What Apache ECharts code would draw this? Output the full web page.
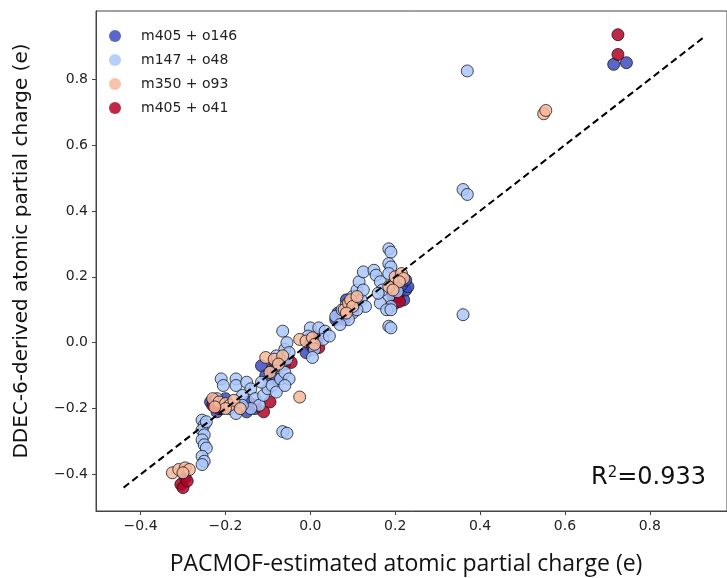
<!DOCTYPE html>
<html>
<head>
<meta charset="utf-8">
<script src="https://cdn.jsdelivr.net/npm/echarts@6/dist/echarts.min.js"></script>
<style>
  html, body { margin: 0; padding: 0; background: #fff; }
  #chart { width: 727px; height: 578px; }
</style>
</head>
<body>
<div id="chart"></div>
<script>
// tick values shared by both axes
var tickValues = [-0.4, -0.2, 0.0, 0.2, 0.4, 0.6, 0.8];

var seriesNames = ['m405 + o146', 'm147 + o48', 'm350 + o93', 'm405 + o41'];

// [PACMOF estimate, DDEC-6 value]
var m405_o146 = [
  [-0.295, -0.41],
  [-0.235, -0.18], [-0.22, -0.21], [-0.2, -0.17], [-0.16, -0.19], [-0.145, -0.18], [-0.13, -0.2], [-0.15, -0.21], [-0.21, -0.2],
  [-0.115, -0.07], [-0.105, -0.1], [-0.09, -0.08], [-0.08, -0.11], [-0.07, -0.06],
  [0.0, -0.01], [0.01, 0.02], [-0.01, -0.03],
  [0.07, 0.08], [0.065, 0.09], [0.08, 0.07], [0.09, 0.1], [0.1, 0.12], [0.085, 0.13], [0.11, 0.12], [0.06, 0.07],
  [0.195, 0.14], [0.21, 0.15], [0.22, 0.13], [0.225, 0.16], [0.23, 0.17], [0.215, 0.175], [0.225, 0.19], [0.2, 0.12],
  [0.715, 0.845], [0.745, 0.85]
];

var m147_o48 = [
  [-0.255, -0.235], [-0.25, -0.25], [-0.255, -0.265], [-0.25, -0.28], [-0.255, -0.295], [-0.25, -0.31], [-0.245, -0.32],
  [-0.255, -0.345], [-0.25, -0.36], [-0.255, -0.37], [-0.245, -0.24],
  [-0.21, -0.11], [-0.205, -0.13], [-0.175, -0.11], [-0.175, -0.13], [-0.15, -0.12], [-0.14, -0.14], [-0.16, -0.16],
  [-0.13, -0.17], [-0.12, -0.19], [-0.11, -0.16], [-0.1, -0.14], [-0.115, -0.12], [-0.09, -0.13], [-0.07, -0.11],
  [-0.08, -0.15], [-0.14, -0.2], [-0.16, -0.19], [-0.19, -0.2], [-0.175, -0.215], [-0.22, -0.17],
  [-0.07, -0.07], [-0.06, -0.09], [-0.055, -0.05], [-0.06, -0.02], [-0.065, 0.035], [-0.055, 0.0], [-0.08, -0.04],
  [-0.05, -0.11], [-0.06, -0.13], [-0.065, -0.27], [-0.055, -0.275], [-0.05, -0.03],
  [0.0, 0.045], [0.02, 0.045], [0.035, 0.035], [0.01, -0.02], [0.005, -0.045], [0.03, 0.01], [0.045, 0.02], [-0.005, 0.02],
  [0.06, 0.08], [0.075, 0.1], [0.085, 0.115], [0.1, 0.14], [0.11, 0.16], [0.115, 0.185], [0.125, 0.215], [0.1, 0.09],
  [0.12, 0.13], [0.13, 0.11], [0.09, 0.07], [0.07, 0.055], [0.11, 0.1], [0.125, 0.16],
  [0.15, 0.22], [0.155, 0.205], [0.165, 0.185], [0.185, 0.285], [0.19, 0.275], [0.185, 0.24], [0.19, 0.23], [0.185, 0.21],
  [0.185, 0.14], [0.19, 0.11], [0.165, 0.12], [0.18, 0.1], [0.19, 0.1], [0.185, 0.05], [0.19, 0.045], [0.2, 0.17],
  [0.205, 0.155], [0.17, 0.16], [0.16, 0.15],
  [0.37, 0.825], [0.36, 0.465], [0.37, 0.45], [0.36, 0.085]
];

var m350_o93 = [
  [-0.325, -0.395], [-0.31, -0.385], [-0.295, -0.38], [-0.285, -0.385], [-0.3, -0.395],
  [-0.23, -0.17], [-0.215, -0.18], [-0.2, -0.185], [-0.19, -0.19], [-0.18, -0.175], [-0.165, -0.2], [-0.2, -0.2], [-0.225, -0.195],
  [-0.105, -0.045], [-0.085, -0.05], [-0.065, -0.04], [-0.075, -0.065], [-0.095, -0.09],
  [-0.025, -0.165], [-0.025, 0.01], [-0.01, 0.005], [0.005, 0.015], [0.01, -0.005],
  [0.08, 0.1], [0.09, 0.12], [0.095, 0.13], [0.1, 0.11], [0.085, 0.09], [0.11, 0.14],
  [0.185, 0.17], [0.2, 0.2], [0.215, 0.21], [0.22, 0.195], [0.21, 0.185], [0.195, 0.16],
  [0.55, 0.695], [0.555, 0.705]
];

var m405_o41 = [
  [-0.305, -0.43], [-0.3, -0.44], [-0.29, -0.42],
  [-0.225, -0.175], [-0.215, -0.2], [-0.23, -0.19],
  [-0.13, -0.19], [-0.095, -0.18], [-0.11, -0.21],
  [-0.085, -0.055], [-0.06, -0.065], [-0.045, -0.06],
  [0.015, 0.005], [0.005, -0.01], [0.02, -0.015],
  [0.09, 0.11], [0.1, 0.095], [0.075, 0.085],
  [0.205, 0.14], [0.195, 0.15], [0.21, 0.125],
  [0.725, 0.935], [0.725, 0.875]
];

// parity line y = x
var parityLine = [[-0.44, -0.44], [0.93, 0.93]];

var colors = ['#3b4cc0', '#aac7fd', '#f7b89c', '#b40426'];
var groups = [m405_o146, m147_o48, m350_o93, m405_o41];
// stacking: blue lowest, then red, light blue, peach on top
var zOrder = [2, 4, 5, 3];

function fmt(v) {
  return v.toFixed(1).replace('-', '\u2212');
}

var chartDom = document.getElementById('chart');
var myChart = echarts.init(chartDom, null, { renderer: 'canvas' });

var series = groups.map(function (d, i) {
  return {
    name: seriesNames[i],
    type: 'scatter',
    data: d,
    symbolSize: 12,
    z: zOrder[i],
    itemStyle: {
      color: colors[i],
      opacity: 0.85,
      borderColor: '#111',
      borderWidth: 0.9
    },
    emphasis: { disabled: true }
  };
});

series.push({
  name: 'parity',
  type: 'line',
  data: parityLine,
  symbol: 'none',
  z: 10,
  silent: true,
  lineStyle: { color: '#000', width: 2, type: [7, 4] }
});

var option = {
  animation: false,
  backgroundColor: '#fff',
  grid: {
    left: 96, right: -1, top: 11, bottom: 67,
    show: true, borderColor: '#444', borderWidth: 1, backgroundColor: 'transparent'
  },
  legend: {
    data: seriesNames,
    orient: 'vertical',
    left: 104,
    top: 24,
    icon: 'circle',
    itemWidth: 42,
    itemHeight: 12,
    itemGap: 10,
    itemStyle: { borderWidth: 0 },
    textStyle: { fontFamily: 'DejaVu Sans', fontSize: 14, color: '#222', lineHeight: 12 }
  },
  xAxis: {
    type: 'value',
    min: -0.505,
    max: 0.982,
    splitLine: { show: false },
    axisLine: { show: true, onZero: false, lineStyle: { color: '#444', width: 1 } },
    axisTick: { show: true, length: 4, customValues: tickValues, lineStyle: { color: '#444' } },
    axisLabel: {
      customValues: tickValues, margin: 8, formatter: fmt,
      fontFamily: 'DejaVu Sans', fontSize: 14, color: '#222'
    }
  },
  yAxis: {
    type: 'value',
    min: -0.511,
    max: 1.007,
    splitLine: { show: false },
    axisLine: { show: true, onZero: false, lineStyle: { color: '#444', width: 1 } },
    axisTick: { show: true, length: 4, customValues: tickValues, lineStyle: { color: '#444' } },
    axisLabel: {
      customValues: tickValues, margin: 8, formatter: fmt,
      fontFamily: 'DejaVu Sans', fontSize: 14, color: '#222'
    }
  },
  graphic: [
    {
      type: 'text',
      x: 406, y: 564,
      style: {
        text: 'PACMOF-estimated atomic partial charge (e)',
        x: 0, y: 0, align: 'center', verticalAlign: 'middle',
        font: '23px "Open Sans"', fill: '#111'
      }
    },
    {
      type: 'text',
      x: 22, y: 251, rotation: Math.PI / 2,
      style: {
        text: 'DDEC-6-derived atomic partial charge (e)',
        x: 0, y: 0, align: 'center', verticalAlign: 'middle',
        font: '20px "DejaVu Sans"', fill: '#111'
      }
    },
    {
      type: 'text',
      x: 706, y: 478,
      style: {
        text: '{a|R}{s|2}{a|=0.933}',
        align: 'right', verticalAlign: 'middle',
        rich: {
          a: { font: '24px "DejaVu Sans"', fill: '#111' },
          s: { font: '15px "DejaVu Sans"', fill: '#111', verticalAlign: 'top', padding: [0, 0, 10, 0] }
        }
      }
    }
  ],
  series: series
};

option && myChart.setOption(option);
</script>
</body>
</html>
